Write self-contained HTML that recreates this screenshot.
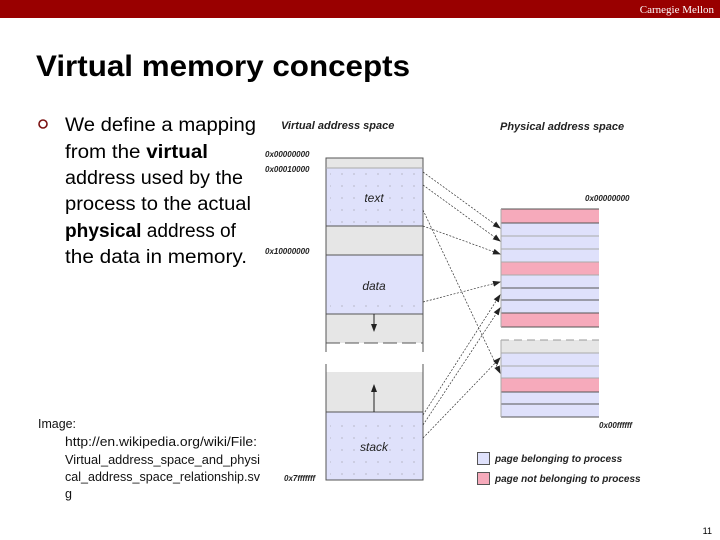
<!DOCTYPE html>
<html><head><meta charset="utf-8"><style>
html,body{margin:0;padding:0;background:#fff;}
svg{display:block;}
text{font-family:"Liberation Sans",sans-serif;}
</style></head><body>
<svg width="720" height="540" viewBox="0 0 720 540" xmlns="http://www.w3.org/2000/svg">
<defs>
<marker id="ah" markerWidth="8" markerHeight="6" refX="7" refY="3" orient="auto" markerUnits="userSpaceOnUse"><path d="M0,0 L8,3 L0,6 z" fill="#222"/></marker>
<pattern id="dots" width="12" height="12" patternUnits="userSpaceOnUse"><circle cx="6" cy="6" r="0.5" fill="#777"/></pattern>
</defs>
<rect x="0" y="0" width="720" height="18" fill="#990000"/>
<text x="714" y="13" style="font-family:'Liberation Serif',serif" font-size="11" fill="#fff" text-anchor="end">Carnegie Mellon</text>
<text x="36" y="76" font-size="30" font-weight="bold" fill="#000" textLength="374" lengthAdjust="spacingAndGlyphs">Virtual memory concepts</text>
<circle cx="43" cy="124" r="4" fill="none" stroke="#7a1010" stroke-width="1.6"/>
<g font-size="19" fill="#000">
<text x="65" y="131" textLength="191" lengthAdjust="spacingAndGlyphs">We define a mapping</text>
<text x="65" y="158" textLength="143" lengthAdjust="spacingAndGlyphs">from the <tspan font-weight="bold">virtual</tspan></text>
<text x="65" y="184" textLength="178" lengthAdjust="spacingAndGlyphs">address used by the</text>
<text x="65" y="210" textLength="186" lengthAdjust="spacingAndGlyphs">process to the actual</text>
<text x="65" y="237" textLength="171" lengthAdjust="spacingAndGlyphs"><tspan font-weight="bold">physical</tspan> address of</text>
<text x="65" y="263" textLength="182" lengthAdjust="spacingAndGlyphs">the data in memory.</text>
</g>
<g font-size="12.5" fill="#111">
<text x="38" y="428" textLength="38" lengthAdjust="spacingAndGlyphs">Image:</text>
<text x="65" y="446" textLength="192" lengthAdjust="spacingAndGlyphs">http://en.wikipedia.org/wiki/File:</text>
<text x="65" y="464" textLength="195" lengthAdjust="spacingAndGlyphs">Virtual_address_space_and_physi</text>
<text x="65" y="481" textLength="195" lengthAdjust="spacingAndGlyphs">cal_address_space_relationship.sv</text>
<text x="65" y="498">g</text>
</g>
<text x="712" y="534" font-size="9" text-anchor="end">11</text>

<g font-size="11" font-style="italic" font-weight="bold" fill="#222">
<text x="281" y="129">Virtual address space</text>
<text x="500" y="130">Physical address space</text>
</g>
<g font-size="8" font-style="italic" font-weight="bold" fill="#222">
<text x="265" y="157">0x00000000</text>
<text x="265" y="172">0x00010000</text>
<text x="265" y="254">0x10000000</text>
<text x="284" y="481">0x7fffffff</text>
<text x="585" y="201">0x00000000</text>
<text x="599" y="428">0x00ffffff</text>
</g>

<rect x="326" y="158" width="97" height="10" fill="#e6e6e6"/>
<rect x="326" y="168" width="97" height="58" fill="#dfe1fb"/>
<rect x="326" y="226" width="97" height="29" fill="#e6e6e6"/>
<rect x="326" y="255" width="97" height="59" fill="#dfe1fb"/>
<rect x="326" y="314" width="97" height="29" fill="#e6e6e6"/>
<rect x="326" y="372" width="97" height="40" fill="#e6e6e6"/>
<rect x="326" y="412" width="97" height="68" fill="#dfe1fb"/>
<rect x="330" y="170" width="90" height="54" fill="url(#dots)"/>
<rect x="330" y="296" width="90" height="16" fill="url(#dots)"/>
<rect x="330" y="415" width="90" height="62" fill="url(#dots)"/>
<g stroke="#555" stroke-width="1" fill="none">
<path d="M326,343 V158 H423 V343"/>
<path d="M326,352 V343 M423,343 V352"/>
<path d="M326,343 H423" stroke-dasharray="14,5"/>
<path d="M326,372 V480 H423 V372" />
<path d="M326,372 V364 M423,372 V364"/>
<line x1="326" y1="168" x2="423" y2="168" stroke="#aaa"/>
<line x1="326" y1="226" x2="423" y2="226"/>
<line x1="326" y1="255" x2="423" y2="255"/>
<line x1="326" y1="314" x2="423" y2="314"/>
<line x1="326" y1="412" x2="423" y2="412"/>
</g>
<line x1="374" y1="314" x2="374" y2="331" stroke="#222" marker-end="url(#ah)"/>
<line x1="374" y1="412" x2="374" y2="385" stroke="#222" marker-end="url(#ah)"/>
<g font-size="12" font-style="italic" fill="#222" text-anchor="middle">
<text x="374" y="202">text</text>
<text x="374" y="290">data</text>
<text x="374" y="451">stack</text>
</g>

<rect x="501" y="209" width="98" height="118" fill="#dfe1fb"/>
<rect x="501" y="209" width="98" height="14" fill="#f6aabb"/>
<rect x="501" y="262" width="98" height="13" fill="#f6aabb"/>
<rect x="501" y="313" width="98" height="14" fill="#f6aabb"/>
<rect x="501" y="340" width="98" height="77" fill="#dfe1fb"/>
<rect x="501" y="340" width="98" height="13" fill="#e6e6e6"/>
<rect x="501" y="378" width="98" height="14" fill="#f6aabb"/>
<g stroke="#555" stroke-width="1">
<line x1="501" y1="209" x2="599" y2="209"/>
<line x1="501" y1="223" x2="599" y2="223"/>
<line x1="501" y1="236" x2="599" y2="236" stroke="#aaa"/>
<line x1="501" y1="249" x2="599" y2="249" stroke="#aaa"/>
<line x1="501" y1="262" x2="599" y2="262" stroke="#aaa"/>
<line x1="501" y1="275" x2="599" y2="275" stroke="#aaa"/>
<line x1="501" y1="288" x2="599" y2="288"/>
<line x1="501" y1="300" x2="599" y2="300"/>
<line x1="501" y1="313" x2="599" y2="313"/>
<line x1="501" y1="327" x2="599" y2="327"/>
<line x1="501" y1="340" x2="599" y2="340" stroke="#999" stroke-dasharray="8,5"/>
<line x1="501" y1="353" x2="599" y2="353" stroke="#aaa"/>
<line x1="501" y1="366" x2="599" y2="366" stroke="#aaa"/>
<line x1="501" y1="378" x2="599" y2="378" stroke="#aaa"/>
<line x1="501" y1="392" x2="599" y2="392"/>
<line x1="501" y1="404" x2="599" y2="404"/>
<line x1="501" y1="417" x2="599" y2="417"/>
<line x1="501" y1="209" x2="501" y2="327" stroke="#aaa"/>
<line x1="501" y1="340" x2="501" y2="417" stroke="#aaa"/>
</g>

<g stroke="#333" stroke-width="0.7" stroke-dasharray="2,1.5" fill="none" marker-end="url(#ah)">
<line x1="423" y1="172" x2="500" y2="228"/>
<line x1="423" y1="185" x2="500" y2="241"/>
<line x1="423" y1="226" x2="500" y2="254"/>
<line x1="423" y1="210" x2="500" y2="373"/>
<line x1="423" y1="302" x2="500" y2="282"/>
<line x1="423" y1="415" x2="500" y2="295"/>
<line x1="423" y1="425" x2="500" y2="308"/>
<line x1="423" y1="438" x2="500" y2="358"/>
</g>

<rect x="477.5" y="452.5" width="12" height="12" fill="#dfe1fb" stroke="#555"/>
<rect x="477.5" y="472.5" width="12" height="12" fill="#f6aabb" stroke="#555"/>
<g font-size="10" font-style="italic" font-weight="bold" fill="#222">
<text x="495" y="462">page belonging to process</text>
<text x="495" y="482">page not belonging to process</text>
</g>
</svg>
</body></html>
